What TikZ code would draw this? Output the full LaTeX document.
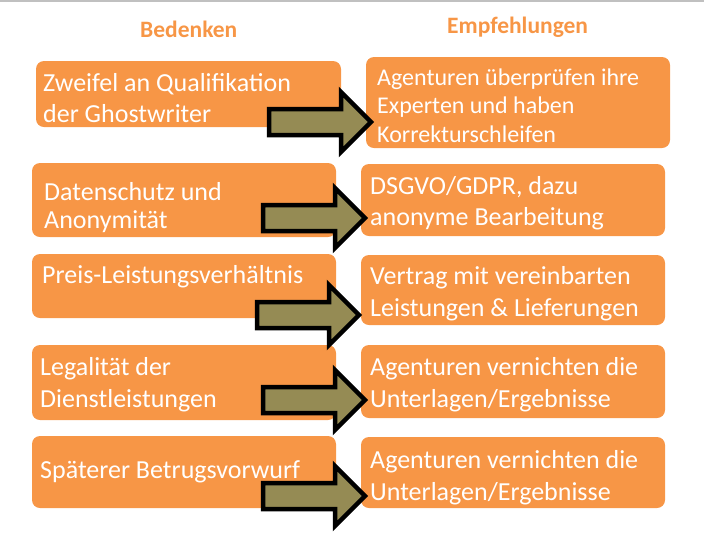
\documentclass[tikz,border=0pt]{standalone}
\usepackage{fontspec}
\setmainfont{Carlito}
\definecolor{boxorange}{HTML}{F79646}
\definecolor{arrowolive}{HTML}{958B54}
\definecolor{rulegray}{HTML}{C0C0C0}
\begin{document}
\begin{tikzpicture}[x=1pt,y=-1pt,
  box/.style={fill=boxorange, draw=none, rounded corners=8pt, inner sep=0pt},
  % texts are placed by the baseline of their last line
  boxtext/.style={anchor=base west, inner sep=0pt, text=white, align=left,
    font=\fontsize{26}{31}\selectfont},
  head/.style={anchor=base west, inner sep=0pt, text=boxorange,
    font=\fontsize{23.5}{28}\selectfont\bfseries},
  blockarrow/.pic={
    \draw[fill=arrowolive, draw=black, line width=4.5pt, miter limit=10]
      (2,-13) -- (74,-13) -- (74,-30) -- (104,0) -- (74,30) -- (74,13) -- (2,13) -- cycle;
  }]
\useasboundingbox (0,0) rectangle (704,539);
\draw[rulegray, line width=1.5pt] (0,0.75) -- (704,0.75);

% column headings
\node[head] (hleft) at (140,37) {Bedenken};
\node[head] (hright) at (447,33) {Empfehlungen};

% concerns (left column)
\node[box, minimum width=305pt, minimum height=66pt] (l1) at (188.5,94) {};
\node[box, minimum width=304pt, minimum height=74pt] (l2) at (184,200) {};
\node[box, minimum width=304pt, minimum height=64pt] (l3) at (184,286) {};
\node[box, minimum width=304pt, minimum height=75pt] (l4) at (184,382.5) {};
\node[box, minimum width=304pt, minimum height=72pt] (l5) at (184,472) {};

% recommendations (right column)
\node[box, minimum width=304pt, minimum height=91pt] (r1) at (518,102.5) {};
\node[box, minimum width=304pt, minimum height=72pt] (r2) at (513,200) {};
\node[box, minimum width=304pt, minimum height=70pt] (r3) at (513,290) {};
\node[box, minimum width=304pt, minimum height=73pt] (r4) at (513,381.5) {};
\node[box, minimum width=304pt, minimum height=71pt] (r5) at (513,472.5) {};

% box texts
\node[boxtext] (tl1) at (43,122) {Zweifel an Qualifikation\\der Ghostwriter};
\node[boxtext, font=\fontsize{26}{28}\selectfont] (tl2) at (44,228) {Datenschutz und\\Anonymität};
\node[boxtext] (tl3) at (42,283) {Preis-Leistungsverhältnis};
\node[boxtext, font=\fontsize{26}{32}\selectfont] (tl4) at (40,407) {Legalität der\\Dienstleistungen};
\node[boxtext] (tl5) at (40,478) {Späterer Betrugsvorwurf};

\node[boxtext, font=\fontsize{24}{28.5}\selectfont] (tr1) at (377,142) {Agenturen überprüfen ihre\\Experten und haben\\Korrekturschleifen};
\node[boxtext] (tr2) at (370,225) {DSGVO/GDPR, dazu\\anonyme Bearbeitung};
\node[boxtext, font=\fontsize{26}{32}\selectfont] (tr3) at (370,316) {Vertrag mit vereinbarten\\Leistungen \& Lieferungen};
\node[boxtext, font=\fontsize{26}{32}\selectfont] (tr4) at (370,407) {Agenturen vernichten die\\Unterlagen/Ergebnisse};
\node[boxtext, font=\fontsize{26}{32}\selectfont] (tr5) at (370,500) {Agenturen vernichten die\\Unterlagen/Ergebnisse};

% block arrows from each concern to its recommendation
\pic at (267,122) {blockarrow};
\pic at (261,218) {blockarrow};
\pic at (255,315) {blockarrow};
\pic at (261,400) {blockarrow};
\pic at (261,496) {blockarrow};
\end{tikzpicture}
\end{document}
